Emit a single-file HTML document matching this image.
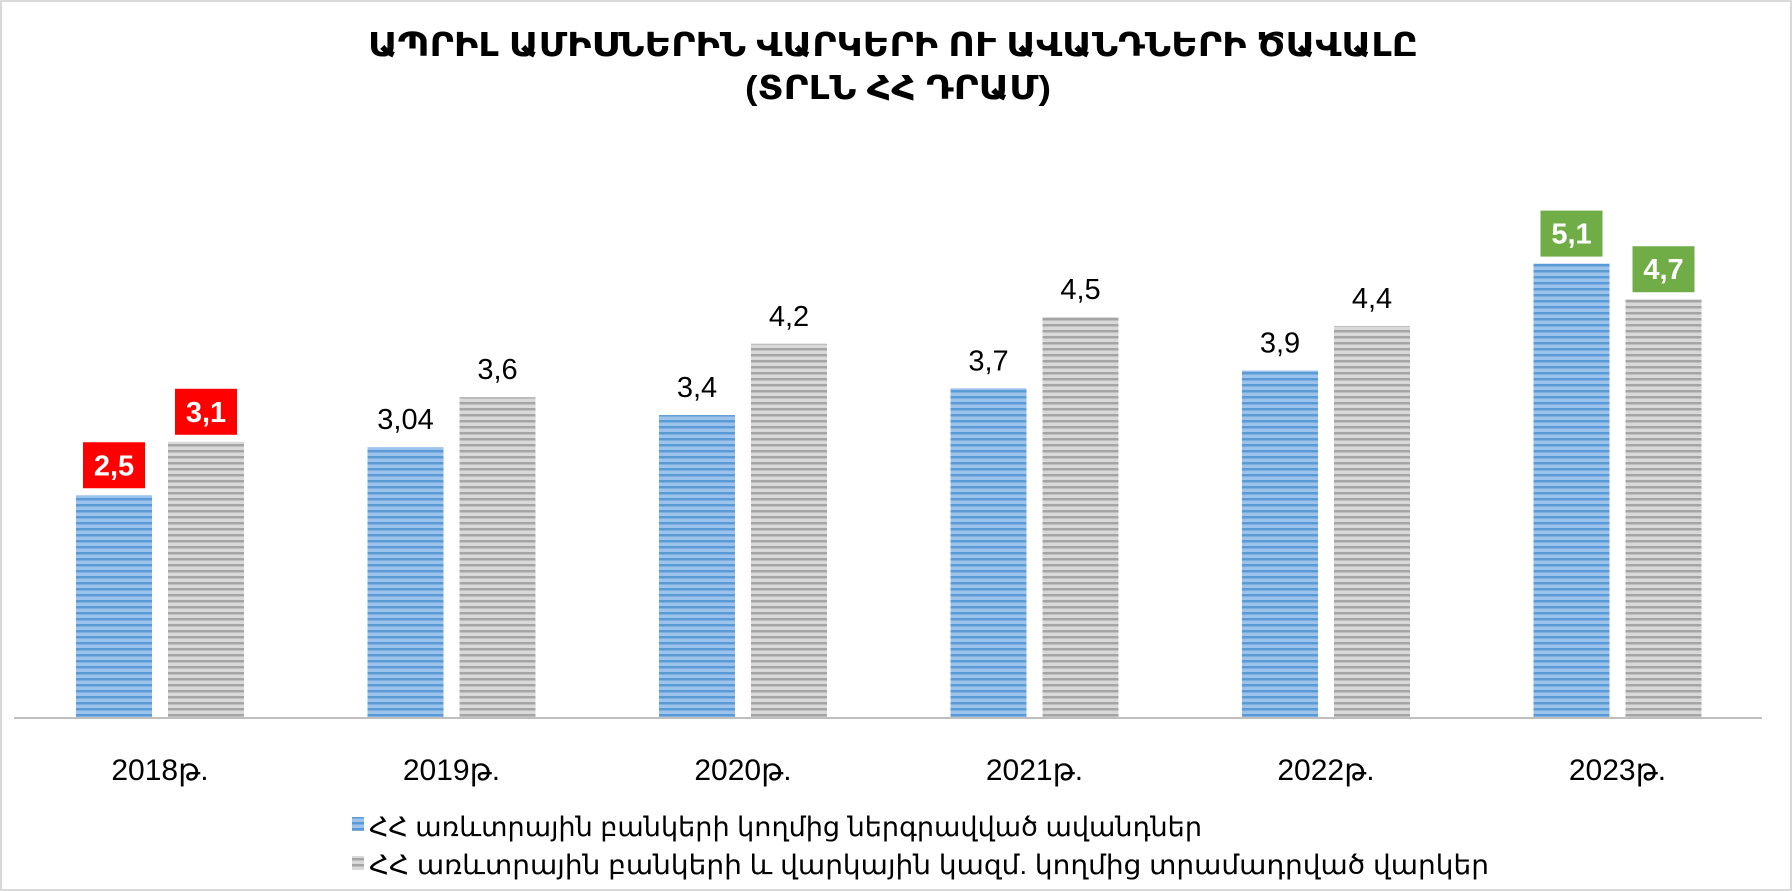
<!DOCTYPE html>
<html><head><meta charset="utf-8"><style>
body{margin:0;background:#fff;}
svg{display:block;font-family:"Liberation Sans","DejaVu Sans",sans-serif;}
</style></head><body>
<svg id="chart" width="1792" height="891" viewBox="0 0 1792 891">
<defs>
<pattern id="pb" width="8" height="6" patternUnits="userSpaceOnUse">
<rect width="8" height="6" fill="#9cc3ec"/><rect y="0" width="8" height="2.5" fill="#5b9bd5"/>
</pattern>
<pattern id="pg" width="8" height="6" patternUnits="userSpaceOnUse">
<rect width="8" height="6" fill="#d9d9d9"/><rect y="0" width="8" height="2.5" fill="#a5a5a5"/>
</pattern>
</defs>
<rect x="1" y="1" width="1790" height="889" fill="#fff" stroke="#d9d9d9" stroke-width="2"/>
<text x="368" y="56" textLength="1050" lengthAdjust="spacingAndGlyphs" font-size="33" font-weight="bold" fill="#000">ԱՊՐԻԼ ԱՄԻՍՆԵՐԻՆ ՎԱՐԿԵՐԻ ՈՒ ԱՎԱՆԴՆԵՐԻ ԾԱՎԱԼԸ</text>
<text x="745" y="99" textLength="306" lengthAdjust="spacingAndGlyphs" font-size="33" font-weight="bold" fill="#000">(ՏՐԼՆ ՀՀ ԴՐԱՄ)</text>
<g id="bars"></g>
<line x1="14" y1="718" x2="1762" y2="718" stroke="#bfbfbf" stroke-width="2"/>
<g>
<rect x="352" y="817" width="12" height="14" fill="url(#pb)"/>
<text x="369" y="836" textLength="833" lengthAdjust="spacingAndGlyphs" font-size="27" fill="#000">ՀՀ առևտրային բանկերի կողմից ներգրավված ավանդներ</text>
<rect x="352" y="856" width="12" height="14" fill="url(#pg)"/>
<text x="369" y="874" textLength="1120" lengthAdjust="spacingAndGlyphs" font-size="27" fill="#000">ՀՀ առևտրային բանկերի և վարկային կազմ. կողմից տրամադրված վարկեր</text>
</g>
</svg>
<script>
const categories = ["2018թ.","2019թ.","2020թ.","2021թ.","2022թ.","2023թ."];
const deposits = [2.5, 3.04, 3.4, 3.7, 3.9, 5.1];
const loans = [3.1, 3.6, 4.2, 4.5, 4.4, 4.7];
const depositLabels = ["2,5","3,04","3,4","3,7","3,9","5,1"];
const loanLabels = ["3,1","3,6","4,2","4,5","4,4","4,7"];
const boxColors = ["#ff0000","","","","","#70ad47"];

const NS="http://www.w3.org/2000/svg";
const g=document.getElementById('bars');
const baseY=718, pxPerUnit=89.1;
const y=v=>baseY-v*pxPerUnit;
const xc=i=>160+i*291.5;
const bw=76;
function mk(t,a){const e=document.createElementNS(NS,t);for(const k in a)e.setAttribute(k,a[k]);g.appendChild(e);return e;}
function label(cx,top,txt,box){
  if(box){
    const r=mk('rect',{x:cx-31,y:top-53,width:62,height:46,fill:box});
    
    
    const t=mk('text',{x:cx,y:top-20,'text-anchor':'middle','font-size':'29','font-weight':'bold',fill:'#fff'});
    t.textContent=txt;
    
    
  } else {
    const t=mk('text',{x:cx,y:top-18,'text-anchor':'middle','font-size':'29',fill:'#000'});
    t.textContent=txt;
    
    
  }
}
categories.forEach((c,i)=>{
  const x0=xc(i)-84, x1=xc(i)+8;
  const b=mk('rect',{x:x0,y:y(deposits[i]),width:bw,height:deposits[i]*pxPerUnit,fill:'url(#pb)'});
  
  
  const l=mk('rect',{x:x1,y:y(loans[i]),width:bw,height:loans[i]*pxPerUnit,fill:'url(#pg)'});
  
  
  label(x0+bw/2,y(deposits[i]),depositLabels[i],boxColors[i]);
  label(x1+bw/2,y(loans[i]),loanLabels[i],boxColors[i]);
  const t=mk('text',{x:xc(i),y:780,'text-anchor':'middle','font-size':'30',fill:'#000'});
  t.textContent=c;
  
  
});
</script>
</body></html>
